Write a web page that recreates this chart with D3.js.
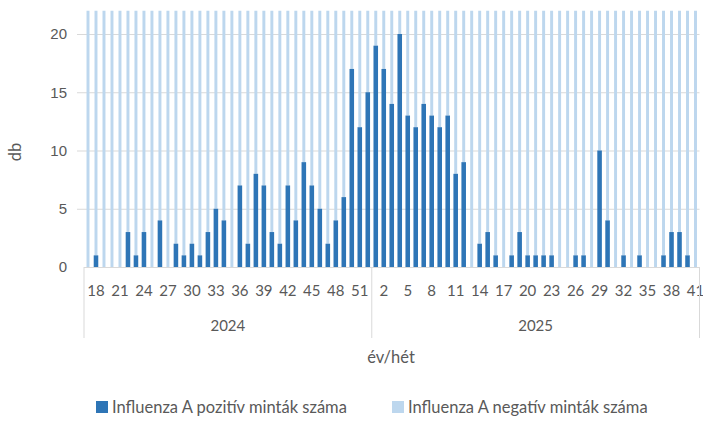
<!DOCTYPE html>
<html>
<head>
<meta charset="utf-8">
<script src="https://cdn.jsdelivr.net/npm/d3@7"></script>
<style>
    body { margin: 0; background: #fff; }
    svg { display: block; font-family: Lato, "Open Sans", sans-serif; }
</style>
</head>
<body>
<svg id="chart"></svg>
<script>
// Weeks shown on the category axis (2024 week 17 .. 2025 week 41)
const weeks2024 = d3.range(17, 53);
const weeks2025 = d3.range(1, 42);

// Influenza A positive samples per week
const positive2024 = [0, 1, 0, 0, 0, 3, 1, 3, 0, 4, 0, 2, 1, 2, 1, 3, 5, 4, 0, 7,
    2, 8, 7, 3, 2, 7, 4, 9, 7, 5, 2, 4, 6, 17, 12, 15];
const positive2025 = [19, 17, 14, 20, 13, 12, 14, 13, 12, 13, 8, 9, 0, 2, 3, 1, 0, 1, 3, 1,
    1, 1, 1, 0, 0, 1, 1, 0, 10, 4, 0, 1, 0, 1, 0, 0, 1, 3, 3, 1, 0];

// Influenza A negative samples per week (bars run past the top of the axis, so these are estimates)
const negative2024 = [38, 41, 36, 40, 35, 42, 39, 44, 37, 40, 36, 43, 41, 38, 45, 42, 40, 46, 39, 44,
    48, 45, 50, 47, 52, 49, 55, 51, 58, 54, 60, 57, 62, 59, 64, 61];
const negative2025 = [66, 63, 60, 58, 62, 57, 55, 53, 56, 52, 50, 48, 51, 47, 45, 49, 44, 46, 43, 41,
    45, 42, 40, 38, 41, 39, 37, 40, 36, 38, 35, 39, 37, 40, 36, 38, 41, 39, 42, 40, 43];

const yTicks = [0, 5, 10, 15, 20];
const years = ["2024", "2025"];
const legendLabels = ["Influenza A pozitív minták száma", "Influenza A negatív minták száma"];

const darkBlue = "#2E75B6";
const lightBlue = "#BDD7EE";
const gridColor = "#D9D9D9";
const textColor = "#595959";

// Flatten into one row per week
const rows = [];
weeks2024.forEach((w, i) => rows.push({ key: "2024-" + w, year: "2024", week: w, pos: positive2024[i], neg: negative2024[i] }));
weeks2025.forEach((w, i) => rows.push({ key: "2025-" + w, year: "2025", week: w, pos: positive2025[i], neg: negative2025[i] }));

const width = 703;
const height = 422;
const plotLeft = 84, plotRight = 699.5, plotBottom = 267, plotTop = 10.7;

const svg = d3.select("#chart").attr("width", width).attr("height", height);

const x = d3.scaleBand()
    .domain(rows.map(d => d.key))
    .range([plotLeft, plotRight])
    .paddingInner(0.43)
    .paddingOuter(0.215);

const y = d3.scaleLinear().domain([0, 22]).range([plotBottom, plotTop]);

// Horizontal gridlines plus small outside tick marks
const yAxis = d3.axisLeft(y)
    .tickValues(yTicks)
    .tickSize(-(plotRight - plotLeft))
    .tickPadding(10)
    .tickSizeOuter(0);

const yG = svg.append("g")
    .attr("transform", `translate(${plotLeft},0)`)
    .call(yAxis);
yG.select(".domain").remove();
yG.selectAll(".tick line").attr("stroke", gridColor).attr("stroke-width", 1);
yG.selectAll(".tick text")
    .attr("fill", textColor)
    .attr("font-size", "15px")
    .attr("x", -17);
yG.selectAll(".tick")
    .filter(d => d > 0)
    .append("line")
    .attr("x1", -7).attr("x2", 0)
    .attr("stroke", gridColor);

// Clip the negative bars at the top of the plot area
svg.append("clipPath").attr("id", "plot-clip")
    .append("rect")
    .attr("x", plotLeft).attr("y", plotTop)
    .attr("width", plotRight - plotLeft).attr("height", plotBottom - plotTop);

const bars = svg.append("g").attr("clip-path", "url(#plot-clip)");

// light bars look slimmer than the dark ones in the original
const negInset = 0.8;
bars.selectAll("rect.neg")
    .data(rows)
    .enter()
    .append("rect")
    .attr("class", "neg")
    .attr("x", d => x(d.key) + negInset)
    .attr("width", x.bandwidth() - 2 * negInset)
    .attr("y", d => y(d.pos + d.neg))
    .attr("height", d => y(d.pos) - y(d.pos + d.neg))
    .attr("fill", lightBlue);

bars.selectAll("rect.pos")
    .data(rows.filter(d => d.pos > 0))
    .enter()
    .append("rect")
    .attr("class", "pos")
    .attr("x", d => x(d.key))
    .attr("width", x.bandwidth())
    .attr("y", d => y(d.pos))
    .attr("height", d => y(0) - y(d.pos))
    .attr("fill", darkBlue);

// Category axis: week labels, every third week
const xG = svg.append("g");
xG.selectAll("text.week")
    .data(rows.filter((d, i) => i % 3 === 1))
    .enter()
    .append("text")
    .attr("class", "week")
    .attr("x", d => x(d.key) + x.bandwidth() / 2)
    .attr("y", 296)
    .attr("text-anchor", "middle")
    .attr("font-size", "15px")
    .attr("fill", textColor)
    .text(d => d.week);

// Year group dividers
const firstOf2025 = x("2025-1") - x.step() * x.paddingInner() / 2;
const dividers = [plotLeft, firstOf2025, plotRight];
xG.selectAll("line.divider")
    .data(dividers)
    .enter()
    .append("line")
    .attr("class", "divider")
    .attr("x1", d => d).attr("x2", d => d)
    .attr("y1", plotBottom).attr("y2", 338)
    .attr("stroke", gridColor);

xG.selectAll("text.year")
    .data(years)
    .enter()
    .append("text")
    .attr("class", "year")
    .attr("x", (d, i) => (dividers[i] + dividers[i + 1]) / 2)
    .attr("y", 331)
    .attr("text-anchor", "middle")
    .attr("font-size", "15px")
    .attr("fill", textColor)
    .text(d => d);

// Axis titles
svg.append("text")
    .attr("x", 391).attr("y", 363)
    .attr("text-anchor", "middle")
    .attr("font-size", "16.5px")
    .attr("fill", textColor)
    .text("év/hét");

svg.append("text")
    .attr("transform", "translate(21,152) rotate(-90)")
    .attr("text-anchor", "middle")
    .attr("font-size", "16.5px")
    .attr("fill", textColor)
    .text("db");

// Legend
const legend = svg.append("g");
const legendX = [96, 392];
const legendItems = legend.selectAll("g")
    .data(legendLabels)
    .enter()
    .append("g")
    .attr("transform", (d, i) => `translate(${legendX[i]},401)`);

legendItems.append("rect")
    .attr("width", 12).attr("height", 12)
    .attr("fill", (d, i) => i === 0 ? darkBlue : lightBlue);

legendItems.append("text")
    .attr("x", 16).attr("y", 12)
    .attr("font-size", "16.5px")
    .attr("fill", textColor)
    .text(d => d);
</script>
</body>
</html>
